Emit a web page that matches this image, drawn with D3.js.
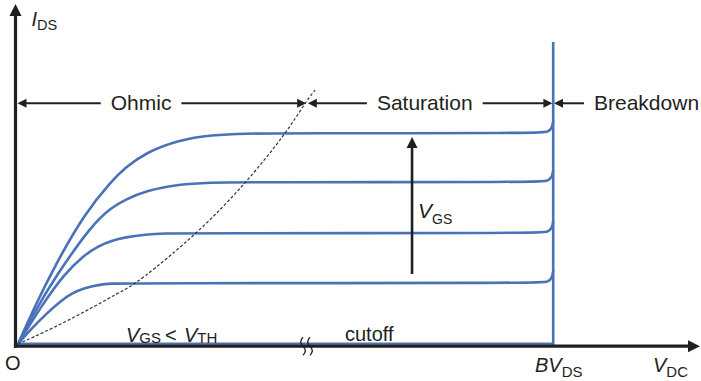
<!DOCTYPE html>
<html>
<head>
<meta charset="utf-8">
<script src="https://cdn.jsdelivr.net/npm/d3@7"></script>
<style>
  html, body { margin: 0; padding: 0; background: #fff; }
  svg { display: block; font-family: "Liberation Sans", Arial, Helvetica, sans-serif; }
</style>
</head>
<body>
<svg id="chart" width="701" height="381"></svg>
<script>
// MOSFET output characteristics: drain current I_DS vs. drain-source voltage V_DS
// Each curve is a list of [V_DS, I_DS] points (arbitrary units), one per gate voltage.
const curveVGS1 = [[0,0],[2,4.5],[4.5,9.4],[6.5,12.8],[8,14.9],[10,16.5],[12,17.4],[14,17.8],[16,17.9],[78,17.9],[79.3,18.3],[79.85,19.5],[80,21.4]];
const curveVGS2 = [[0,0],[3.6,11.5],[7,20.8],[10,26.3],[12,28.8],[14,30.4],[16,31.4],[19,32.2],[22,32.55],[25,32.6],[78,32.6],[79.3,33],[79.85,34.2],[80,36.1]];
const curveVGS3 = [[0,0],[2.5,9.5],[5.5,19.5],[11,35],[14,40.2],[16,42.4],[19,45],[24,47],[29,47.5],[33,47.6],[78,47.6],[79.3,48],[79.85,49.2],[80,51.1]];
const curveVGS4 = [[0,0],[2.5,11],[5.5,23],[10,38.5],[14,48],[16,51.8],[19,56.2],[24,60],[29,61.5],[34,61.9],[40,62],[78,62],[79.3,62.4],[79.85,63.6],[80,65.5]];
// Pinch-off locus (boundary between ohmic and saturation regions)
const pinchOff = [[0,0],[7.3,6.5],[15.8,15.9],[17.8,17.9],[26.9,32.6],[34.2,47.6],[40.1,62.1],[42.9,70.9],[44.4,74.7]];
// Breakdown voltage and the top of the breakdown line
const bvDS = 80;
const breakdownTop = 88.8;
// Operating regions marked along the top of the plot
const regionNames = ["Ohmic", "Saturation", "Breakdown"];
const regionStarts = [0, 43.2, 80];
const regionEnds = [43.2, 80, null];
const regionLabelAt = [18.4, 60.8, 86.1];
const regionLevel = 70.8;
// Arrow showing increasing gate voltage
const vgsArrowV = 58.9;
const vgsArrowFrom = 20.6;
const vgsArrowTo = 60.9;

const ink = "#231f20";
const blue = "#4a72b8";

const svg = d3.select("#chart");
const x = d3.scaleLinear().domain([0, 100]).range([18, 687]);
const y = d3.scaleLinear().domain([0, 100]).range([344, 4]);

const line = d3.line()
  .x(d => x(d[0]))
  .y(d => y(d[1]))
  .curve(d3.curveBasis);

// Characteristic curves
[curveVGS1, curveVGS2, curveVGS3, curveVGS4].forEach(c => {
  svg.append("path")
    .attr("d", line(c))
    .attr("fill", "none")
    .attr("stroke", blue)
    .attr("stroke-width", 2.6)
    .attr("stroke-linecap", "round");
});

// Cutoff (I_DS = 0) line along the axis
svg.append("line")
  .attr("x1", x(0)).attr("x2", x(bvDS))
  .attr("y1", y(0) - 0.3).attr("y2", y(0) - 0.3)
  .attr("stroke", blue).attr("stroke-width", 2.2);

// Breakdown line
svg.append("line")
  .attr("x1", x(bvDS)).attr("x2", x(bvDS))
  .attr("y1", y(0) + 1).attr("y2", y(breakdownTop))
  .attr("stroke", blue).attr("stroke-width", 2.6);

// Pinch-off locus
svg.append("path")
  .attr("d", line(pinchOff))
  .attr("fill", "none")
  .attr("stroke", "#333")
  .attr("stroke-width", 1.2)
  .attr("stroke-dasharray", "3,2");

// Axes with arrowheads
const axX = x(0) - 2.5;
const axY = y(0) + 2.2;
svg.append("line")
  .attr("x1", axX).attr("x2", axX)
  .attr("y1", axY + 1.6).attr("y2", 14)
  .attr("stroke", ink).attr("stroke-width", 3.2);
svg.append("path")
  .attr("d", `M${axX},4 L${axX - 6},16 L${axX + 6},16 Z`)
  .attr("fill", ink);
svg.append("line")
  .attr("x1", axX - 1.6).attr("x2", 690)
  .attr("y1", axY).attr("y2", axY)
  .attr("stroke", ink).attr("stroke-width", 3.2);
svg.append("path")
  .attr("d", `M700,${axY} L688,${axY - 6} L688,${axY + 6} Z`)
  .attr("fill", ink);

// Axis break mark
const brk = x(43.2) - 5;
[0, 7].forEach(dx => {
  const bx = brk + dx;
  svg.append("path")
    .attr("d", `M${bx + 1},${axY - 9} q -4.5,4.5 0,9 t 0,9`)
    .attr("fill", "none")
    .attr("stroke", ink)
    .attr("stroke-width", 1.3);
});

// Region dimension arrows
const ry = y(regionLevel);
const headLen = 9, headHalf = 4.5;
function headLeft(tx) {
  svg.append("path")
    .attr("d", `M${tx},${ry} L${tx + headLen},${ry - headHalf} L${tx + headLen},${ry + headHalf} Z`)
    .attr("fill", ink);
}
function headRight(tx) {
  svg.append("path")
    .attr("d", `M${tx},${ry} L${tx - headLen},${ry - headHalf} L${tx - headLen},${ry + headHalf} Z`)
    .attr("fill", ink);
}
function seg(a, b) {
  svg.append("line")
    .attr("x1", a).attr("x2", b)
    .attr("y1", ry).attr("y2", ry)
    .attr("stroke", ink).attr("stroke-width", 2);
}
regionNames.forEach((name, i) => {
  const isLast = regionEnds[i] === null;
  const t = svg.append("text")
    .attr("x", x(regionLabelAt[i]))
    .attr("y", ry + 7)
    .attr("text-anchor", isLast ? "start" : "middle")
    .attr("font-size", 21)
    .attr("fill", ink)
    .text(name);
  const bb = t.node().getBBox();
  const xL = x(regionStarts[i]) + (i === 0 ? -0.5 : 0.8);
  headLeft(xL);
  seg(xL + headLen - 1, bb.x - 10);
  if (!isLast) {
    const xR = x(regionEnds[i]) - 0.8;
    seg(bb.x + bb.width + 10, xR - headLen + 1);
    headRight(xR);
  }
});

// Gate-voltage arrow
const gx = x(vgsArrowV);
svg.append("line")
  .attr("x1", gx).attr("x2", gx)
  .attr("y1", y(vgsArrowFrom)).attr("y2", y(vgsArrowTo) + 10)
  .attr("stroke", ink).attr("stroke-width", 2.6);
svg.append("path")
  .attr("d", `M${gx},${y(vgsArrowTo)} L${gx - 5.5},${y(vgsArrowTo) + 11} L${gx + 5.5},${y(vgsArrowTo) + 11} Z`)
  .attr("fill", ink);

// Text labels with subscripts
function subLabel(px, py, main, sub, mainSize, subSize, drop) {
  const t = svg.append("text")
    .attr("x", px).attr("y", py)
    .attr("fill", ink)
    .attr("font-size", mainSize);
  t.append("tspan").attr("font-style", "italic").text(main);
  t.append("tspan").attr("font-size", subSize).attr("dy", drop).text(sub);
  return t;
}
subLabel(31.5, 26, "I", "DS", 20, 14.5, 4);
subLabel(gx + 6, 218, "V", "GS", 21, 14, 6);
subLabel(535, 371.5, "BV", "DS", 20, 15, 5);
subLabel(653, 371.5, "V", "DC", 20, 15, 5);

svg.append("text")
  .attr("x", 5).attr("y", 369.5)
  .attr("font-size", 20).attr("fill", ink)
  .text("O");

// Cutoff condition
const cond = svg.append("text")
  .attr("x", 126).attr("y", 341.5)
  .attr("fill", ink).attr("font-size", 20);
cond.append("tspan").attr("font-style", "italic").text("V");
cond.append("tspan").attr("font-size", 15).attr("dy", 1).text("GS");
cond.append("tspan").attr("x", 165).attr("dy", -1).text("<");
cond.append("tspan").attr("x", 184).attr("font-style", "italic").text("V");
cond.append("tspan").attr("font-size", 15).attr("dy", 1).text("TH");

svg.append("text")
  .attr("x", 345).attr("y", 341)
  .attr("font-size", 20).attr("fill", ink)
  .text("cutoff");
</script>
</body>
</html>
